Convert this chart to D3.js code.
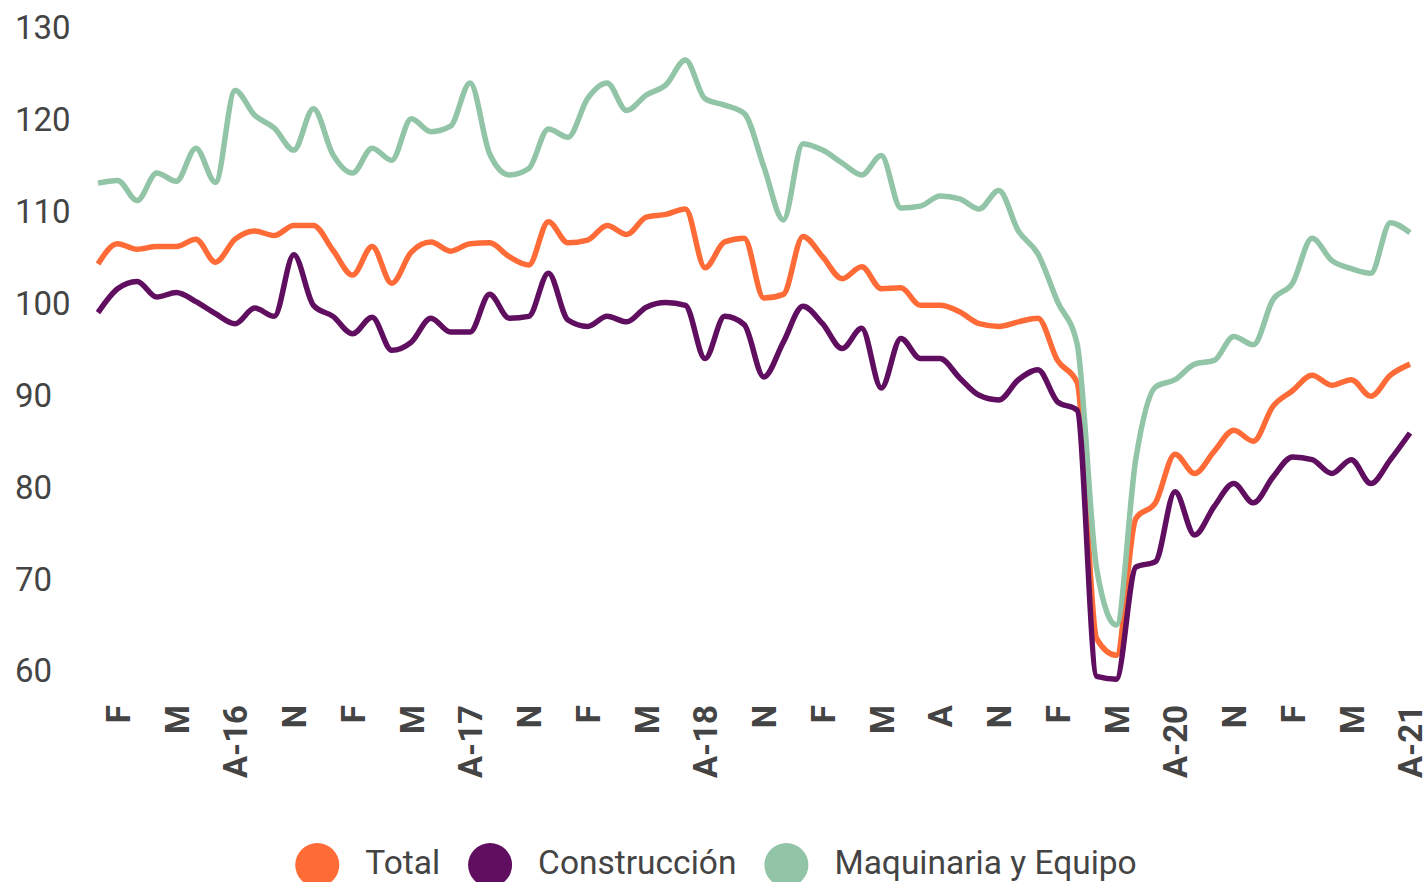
<!DOCTYPE html>
<html>
<head>
<meta charset="utf-8">
<script src="https://cdn.jsdelivr.net/npm/d3@7.9.0/dist/d3.min.js"></script>
<style>
  html, body { margin: 0; padding: 0; background: #fff; }
  svg { display: block; font-family: Roboto, "Noto Sans", sans-serif; }
</style>
</head>
<body>
<svg id="chart" width="1424" height="882"></svg>
<script>
// monthly index, Jan 2016 .. Aug 2021
const months = d3.timeMonths(new Date(2016, 0, 1), new Date(2021, 8, 1));

const total = [
  104.2, 106.4, 105.8, 106.1, 106.1, 106.9, 104.4, 106.9, 107.8, 107.3, 108.4, 108.4,
  105.7, 103.0, 106.1, 102.1, 105.5, 106.6, 105.6, 106.4, 106.5, 105.0, 104.1, 108.8,
  106.5, 106.8, 108.4, 107.4, 109.3, 109.6, 110.2, 103.8, 106.6, 107.0, 100.5, 100.9,
  107.2, 105.0, 102.6, 103.9, 101.5, 101.6, 99.7, 99.7, 99.0, 97.7, 97.4, 97.9,
  98.3, 93.7, 91.3, 63.4, 61.6, 76.5, 78.2, 83.5, 81.4, 83.8, 86.1, 84.9,
  88.7, 90.4, 92.1, 91.0, 91.6, 89.8, 92.1, 93.3
];

const construccion = [
  98.9, 101.5, 102.3, 100.6, 101.1, 100.1, 98.8, 97.7, 99.4, 98.5, 105.2, 99.7,
  98.5, 96.6, 98.4, 94.8, 95.7, 98.3, 96.8, 96.8, 100.9, 98.3, 98.5, 103.2,
  98.1, 97.4, 98.5, 97.9, 99.5, 100.0, 99.7, 93.9, 98.5, 97.6, 91.9, 95.7,
  99.6, 97.7, 95.0, 97.2, 90.7, 96.1, 93.9, 93.9, 91.8, 89.9, 89.4, 91.6,
  92.7, 89.2, 88.3, 59.3, 59.0, 71.2, 71.8, 79.4, 74.7, 77.8, 80.3, 78.2,
  81.0, 83.2, 82.9, 81.4, 82.9, 80.3, 82.9, 85.8
];

const maquinaria = [
  113.0, 113.3, 111.1, 114.1, 113.2, 116.8, 113.1, 123.1, 120.4, 119.0, 116.6, 121.1,
  116.1, 114.1, 116.8, 115.5, 120.0, 118.6, 119.2, 123.9, 116.2, 113.9, 114.6, 118.9,
  118.0, 122.2, 123.9, 120.9, 122.6, 123.7, 126.4, 122.2, 121.5, 120.6, 114.8, 109.0,
  117.3, 116.6, 115.2, 113.9, 116.0, 110.3, 110.5, 111.6, 111.3, 110.2, 112.2, 107.8,
  105.3, 100.1, 95.5, 71.0, 64.9, 83.0, 90.8, 91.6, 93.3, 93.7, 96.3, 95.4,
  100.3, 102.1, 107.0, 104.6, 103.7, 103.2, 108.7, 107.6
];

// one label every three months, starting Feb 2016
const tickLabels = ["F", "M", "A-16", "N", "F", "M", "A-17", "N", "F", "M", "A-18", "N",
  "F", "M", "A", "N", "F", "M", "A-20", "N", "F", "M", "A-21"];

const yTicks = [60, 70, 80, 90, 100, 110, 120, 130];

const seriesNames = ["Total", "Construcción", "Maquinaria y Equipo"];
const seriesColors = ["#ff6b37", "#600e5f", "#92c4a8"];

const series = [
  { name: seriesNames[0], color: seriesColors[0], values: total },
  { name: seriesNames[1], color: seriesColors[1], values: construccion },
  { name: seriesNames[2], color: seriesColors[2], values: maquinaria }
];

const svg = d3.select('#chart');

const x = d3.scalePoint()
  .domain(months.map(d => +d))
  .range([98, 1410]);

const y = d3.scaleLinear()
  .domain([60, 130])
  .range([670, 27]);

// y labels
const yAxis = d3.axisLeft(y).tickValues(yTicks).tickSize(0).tickPadding(0);
const gy = svg.append('g')
  .attr('transform', 'translate(15,0)')
  .call(yAxis);
gy.select('.domain').remove();
gy.selectAll('text')
  .attr('text-anchor', 'start')
  .attr('x', 0)
  .attr('dy', '0.36em')
  .attr('fill', '#444')
  .style('font-size', '33px')
  .style('font-family', 'Roboto, sans-serif');

// x labels, rotated
const tickMonths = tickLabels.map((_, k) => +months[1 + 3 * k]);
const xAxis = d3.axisBottom(x)
  .tickValues(tickMonths)
  .tickFormat((d, k) => tickLabels[k])
  .tickSize(0)
  .tickPadding(0);
const gx = svg.append('g')
  .attr('transform', 'translate(0,705)')
  .call(xAxis);
gx.select('.domain').remove();
gx.selectAll('text')
  .attr('transform', 'rotate(-90)')
  .attr('text-anchor', 'end')
  .attr('x', 0)
  .attr('y', 0)
  .attr('dy', '0.36em')
  .attr('fill', '#444')
  .style('font-size', '33px')
  .style('font-weight', '700')
  .style('font-family', 'Roboto, sans-serif');

// lines
const line = d3.line()
  .x((d, i) => x(+months[i]))
  .y(d => y(d))
  .curve(d3.curveMonotoneX);

const drawOrder = [0, 2, 1];
drawOrder.forEach(k => {
  svg.append('path')
    .datum(series[k].values)
    .attr('fill', 'none')
    .attr('stroke', series[k].color)
    .attr('stroke-width', 5.5)
    .attr('stroke-linejoin', 'round')
    .attr('stroke-linecap', 'butt')
    .attr('d', line);
});

// legend
const legend = svg.append('g');
let cursor = 0;
series.forEach((s, i) => {
  const item = legend.append('g').attr('transform', `translate(${cursor},0)`);
  item.append('circle')
    .attr('cx', 22)
    .attr('cy', 865)
    .attr('r', 22)
    .attr('fill', s.color);
  const t = item.append('text')
    .attr('x', 70)
    .attr('y', 874)
    .attr('fill', '#444')
    .style('font-size', '33.5px')
    .style('font-family', 'Roboto, sans-serif')
    .text(s.name);
  const w = t.node().getComputedTextLength();
  cursor += 70 + w + 28;
});
const legendWidth = cursor - 28;
legend.attr('transform', `translate(${716 - legendWidth / 2},0)`);
</script>
</body>
</html>
